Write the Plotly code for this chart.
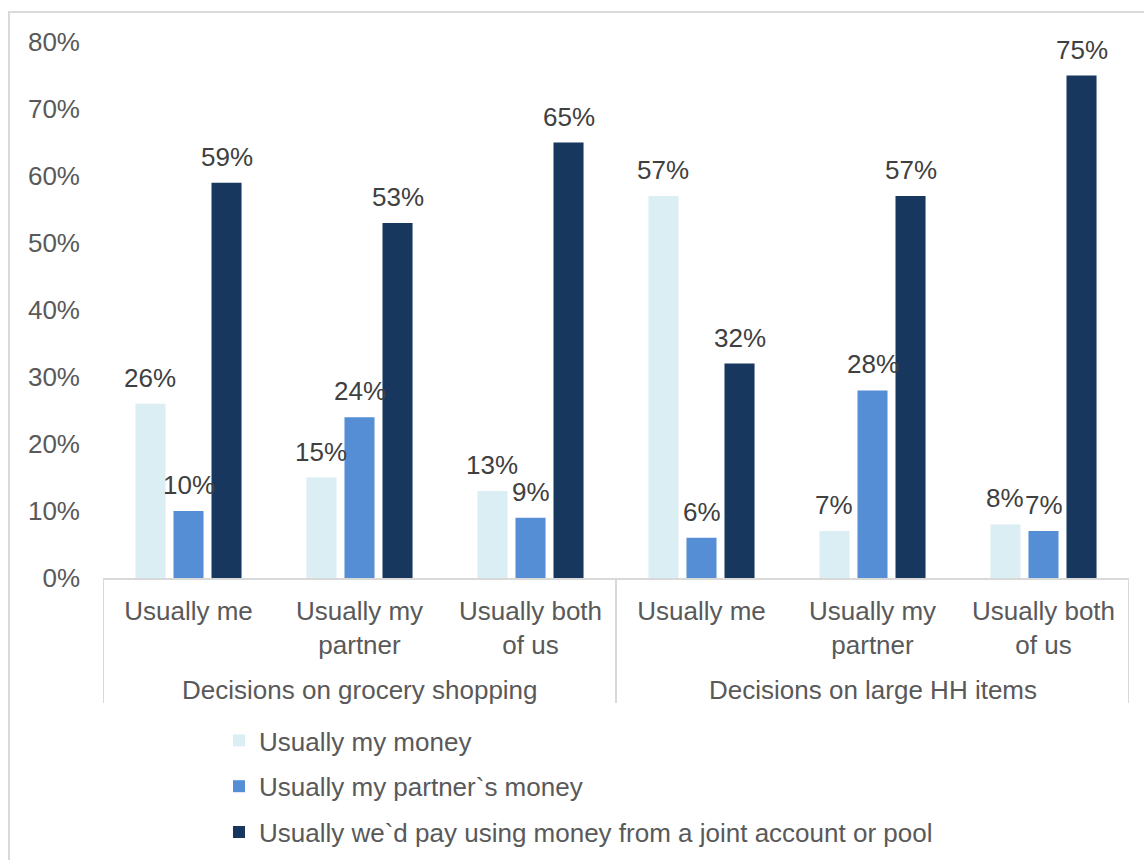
import plotly.graph_objects as go

# Survey shares (%) for each answer, by decision type
groups = ["Decisions on grocery shopping", "Decisions on large HH items"]
answers = ["Usually me", "Usually my<br>partner", "Usually both<br>of us"]

my_money = [26, 15, 13, 57, 7, 8]
partner_money = [10, 24, 9, 6, 28, 7]
joint_money = [59, 53, 65, 32, 57, 75]

series_names = [
    "Usually my money",
    "Usually my partner`s money",
    "Usually we`d pay using money from a joint account or pool",
]
series_colors = ["#DAEEF3", "#558ED5", "#17375E"]
series_values = [my_money, partner_money, joint_money]

y_ticks = [0, 10, 20, 30, 40, 50, 60, 70, 80]

# Page geometry (pixels)
W, H = 1144, 860
PL, PR, PT, PB = 103, 1129, 42, 578
BARGAP = 0.333
BARGROUPGAP = 0.21

FONT = "Liberation Sans, Arial, sans-serif"
AXIS_GREY = "#595959"
LABEL_GREY = "#404040"
LINE_GREY = "#D9D9D9"


def px_to_xpaper(px):
    return (px - PL) / (PR - PL)


def px_to_ypaper(py):
    return (PB - py) / (PB - PT)


n_cat = len(my_money)
x_pos = list(range(n_cat))
tick_labels = answers * len(groups)

fig = go.Figure()
for i, (name, color, vals) in enumerate(zip(series_names, series_colors, series_values)):
    fig.add_trace(
        go.Bar(
            x=x_pos,
            y=vals,
            name=name,
            marker=dict(color=color, line=dict(width=0)),
            legendgroup=f"g{i}",
            hoverinfo="skip",
        )
    )

# Data labels above each bar, shifted to the bar's slot within its group
cat_px = (PR - PL) / n_cat
slot_px = cat_px * (1 - BARGAP) / len(series_values)
annotations = []
for i, vals in enumerate(series_values):
    for xi, v in zip(x_pos, vals):
        annotations.append(
            dict(
                x=xi,
                y=v,
                xref="x",
                yref="y",
                text=f"{v}%",
                showarrow=False,
                xshift=(i - 1) * slot_px,
                yanchor="bottom",
                yshift=9,
                font=dict(family=FONT, size=26, color=LABEL_GREY),
            )
        )

# Group labels under the answer labels
answers_per_group = len(answers)
for g, label in enumerate(groups):
    annotations.append(
        dict(
            x=g * answers_per_group + (answers_per_group - 1) / 2,
            y=px_to_ypaper(690),
            xref="x",
            yref="paper",
            text=label,
            showarrow=False,
            yanchor="middle",
            font=dict(family=FONT, size=26, color=AXIS_GREY),
        )
    )

shapes = []
# Dividers between the two decision groups (and at both ends)
for g in range(len(groups) + 1):
    xd = g * answers_per_group - 0.5
    shapes.append(
        dict(
            type="line",
            xref="x",
            yref="paper",
            x0=xd,
            x1=xd,
            y0=0,
            y1=px_to_ypaper(703),
            line=dict(color=LINE_GREY, width=2),
        )
    )
# Chart frame
shapes.append(
    dict(
        type="rect",
        xref="paper",
        yref="paper",
        x0=px_to_xpaper(9),
        x1=px_to_xpaper(W + 20),
        y0=px_to_ypaper(H + 20),
        y1=px_to_ypaper(12),
        line=dict(color=LINE_GREY, width=2),
        fillcolor="rgba(0,0,0,0)",
        layer="below",
    )
)

fig.update_layout(
    width=W,
    height=H,
    margin=dict(l=PL, r=W - PR, t=PT, b=H - PB, pad=0, autoexpand=False),
    paper_bgcolor="white",
    plot_bgcolor="white",
    barmode="group",
    bargap=BARGAP,
    bargroupgap=BARGROUPGAP,
    font=dict(family=FONT, size=26, color=AXIS_GREY),
    showlegend=True,
    legend=dict(
        x=px_to_xpaper(219),
        y=px_to_ypaper(717),
        xanchor="left",
        yanchor="top",
        traceorder="grouped",
        tracegroupgap=9,
        font=dict(family=FONT, size=26, color=AXIS_GREY),
        bgcolor="rgba(0,0,0,0)",
        itemclick=False,
        itemdoubleclick=False,
    ),
    annotations=annotations,
    shapes=shapes,
    xaxis=dict(
        range=[-0.5, n_cat - 0.5],
        tickmode="array",
        tickvals=x_pos,
        ticktext=tick_labels,
        showline=True,
        linecolor=LINE_GREY,
        linewidth=2,
        showgrid=False,
        zeroline=False,
        ticks="",
        ticklabelstandoff=9,
        tickfont=dict(family=FONT, size=26, color=AXIS_GREY),
        fixedrange=True,
    ),
    yaxis=dict(
        range=[0, 80],
        tickmode="array",
        tickvals=y_ticks,
        ticktext=[f"{t}%" for t in y_ticks],
        showline=False,
        showgrid=False,
        zeroline=False,
        ticks="",
        ticklabelstandoff=22,
        tickfont=dict(family=FONT, size=26, color=AXIS_GREY),
        fixedrange=True,
    ),
)

fig.write_html("out.html", config={"displayModeBar": False})
